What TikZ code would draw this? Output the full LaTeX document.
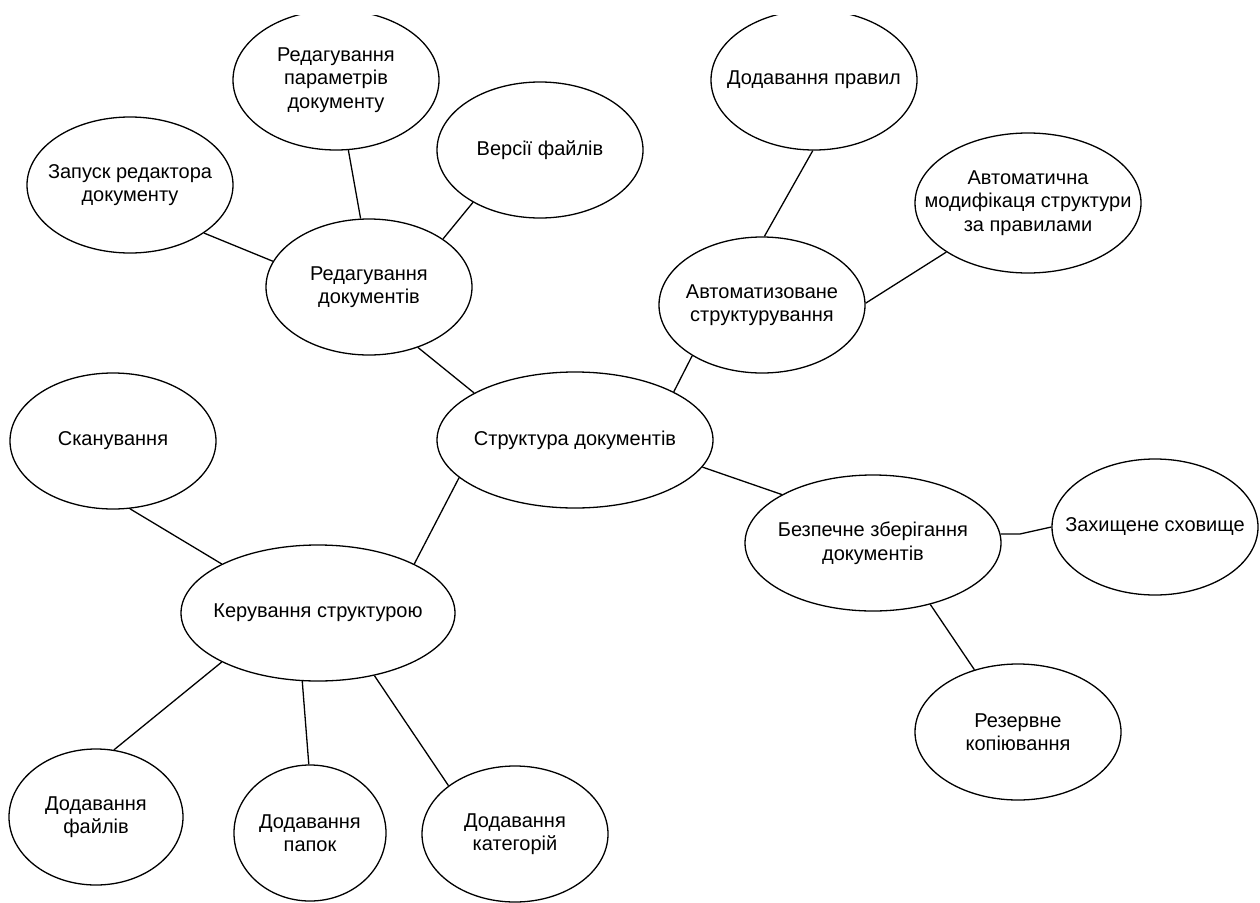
\documentclass[tikz,border=0pt]{standalone}
\usepackage{fontspec}
\setmainfont{Liberation Sans}
\usetikzlibrary{shapes.geometric}
\begin{document}
\begin{tikzpicture}[x=1pt, y=-1pt,
    bubble/.style={draw, ellipse, line width=1.3pt, align=center,
      inner xsep=-40pt, inner ysep=0pt,
      minimum width=206pt, minimum height=136pt,
      font=\fontsize{20}{23.5}\selectfont},
    link/.style={line width=1.3pt}]
  \useasboundingbox (0,0) rectangle (1260,902);
  \clip (0,15) rectangle (1260,902);
  \node[bubble] (par) at (336,80) [minimum height=140pt] {Редагування\\параметрів\\документу};
  \node[bubble] (zap) at (130,185) {Запуск редактора\\документу};
  \node[bubble] (ver) at (540,150) {Версії файлів};
  \node[bubble] (red) at (369,287) {Редагування\\документів};
  \node[bubble] (dod) at (814,80) [minimum height=140pt] {Додавання правил};
  \node[bubble] (avm) at (1028,203) [minimum width=226pt, minimum height=140pt] {Автоматична\\модифікаця структури\\за правилами};
  \node[bubble] (avs) at (762,305) {Автоматизоване\\структурування};
  \node[bubble] (str) at (575,440) [minimum width=276pt] {Структура документів};
  \node[bubble] (skan) at (113,441) {Сканування};
  \node[bubble] (bez) at (873,543) [minimum width=256pt] {Безпечне зберігання\\документів};
  \node[bubble] (zax) at (1155,527) {Захищене сховище};
  \node[bubble] (ker) at (318,613) [minimum width=274pt] {Керування структурою};
  \node[bubble] (rez) at (1018,732) {Резервне\\копіювання};
  \node[bubble] (fil) at (96,817) [minimum width=174pt] {Додавання\\файлів};
  \node[bubble] (pap) at (310,833) [minimum width=152pt] {Додавання\\папок};
  \node[bubble] (kat) at (515,834) [minimum width=186pt] {Додавання\\категорій};
  \draw[link] (zap.-33) -- (red.165);
  \draw[link] (par.-80) -- (red.97);
  \draw[link] (ver.218) -- (red.33);
  \draw[link] (red.-51) -- (str.155);
  \draw[link] (dod.-91) -- (avs.88);
  \draw[link] (avm.211) -- (avs.1);
  \draw[link] (avs.216) -- (str.26);
  \draw[link] (str.-12) -- (bez.152);
  \draw[link] (bez.4) -- ++(19,0) -- (zax.west);
  \draw[link] (bez.-47) -- (rez.125);
  \draw[link] (str.198) -- (ker.27);
  \draw[link] (skan.-76) -- (ker.153);
  \draw[link] (ker.207) -- (fil.75);
  \draw[link] (ker.257) -- (pap.91);
  \draw[link] (ker.-48) -- (kat.144);
\end{tikzpicture}
\end{document}
